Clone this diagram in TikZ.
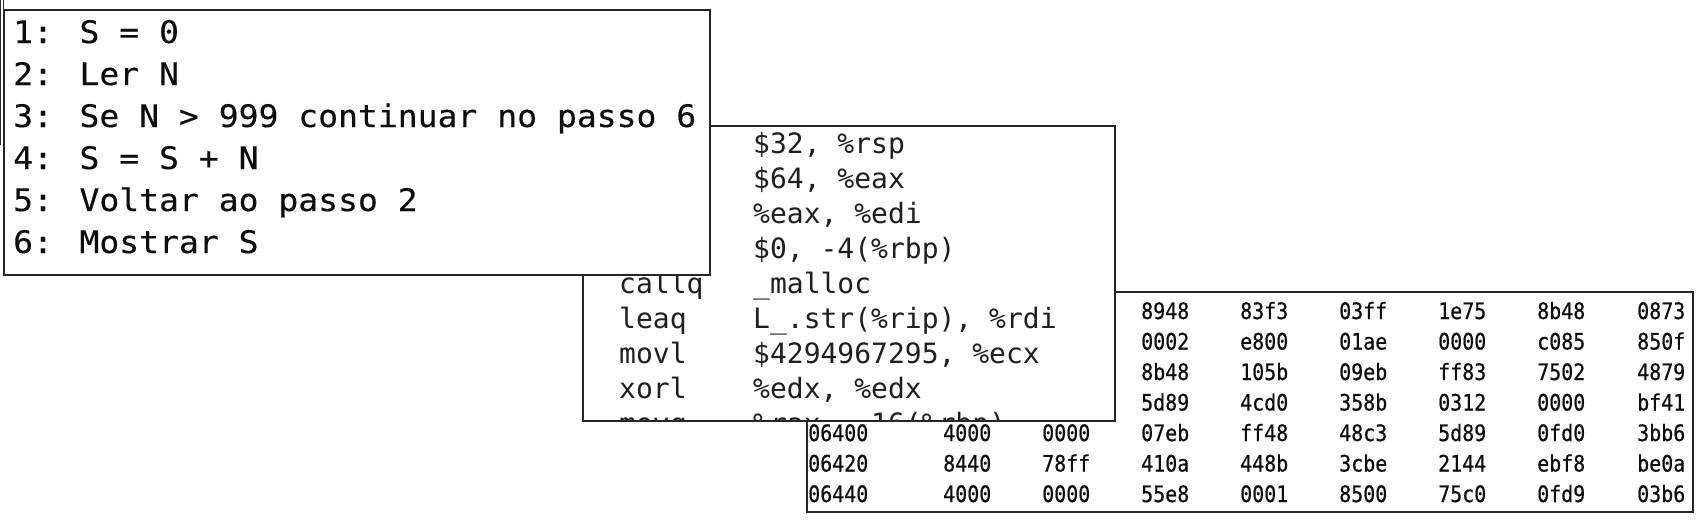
\documentclass[tikz,border=0pt]{standalone}
\usepackage{fontspec}
\newfontfamily\pseudofont[FakeStretch=1.066,FakeBold=0.3]{DejaVu Sans Mono}
\newfontfamily\asmfont{DejaVu Sans Mono}
\newfontfamily\hexfont[FakeStretch=0.883,FakeBold=0.6]{DejaVu Sans Mono}
\begin{document}
\begin{tikzpicture}[x=1pt,y=-1pt,
  panel/.style={draw=black!85, line width=1.8pt, fill=white, inner sep=0pt, anchor=north west},
  pline/.style={anchor=base west, inner sep=0pt, text=black!95, font=\pseudofont\fontsize{31}{42}\selectfont},
  aline/.style={anchor=base west, inner sep=0pt, text=black!88, font=\asmfont\fontsize{28}{35}\selectfont},
  hcell/.style={anchor=base west, inner sep=0pt, text=black!95, font=\hexfont\fontsize{22.6}{30}\selectfont},
  stub/.style={draw=black!85, line width=1.2pt}]
\useasboundingbox (0,0) rectangle (1700,520);

% ---------------- hex dump panel (back) ----------------
\node[panel, minimum width=886pt, minimum height=220pt] (hex) at (806,291) {};
\foreach \r/\y/\cells in {
  1/319/{1141/8948,1240/83f3,1339/03ff,1438/1e75,1537/8b48,1637/0873},
  2/349.5/{1141/0002,1240/e800,1339/01ae,1438/0000,1537/c085,1637/850f},
  3/380/{1141/8b48,1240/105b,1339/09eb,1438/ff83,1537/7502,1637/4879},
  4/410.5/{1141/5d89,1240/4cd0,1339/358b,1438/0312,1537/0000,1637/bf41},
  5/441/{808/06400,943/4000,1042/0000,1141/07eb,1240/ff48,1339/48c3,1438/5d89,1537/0fd0,1637/3bb6},
  6/471.5/{808/06420,943/8440,1042/78ff,1141/410a,1240/448b,1339/3cbe,1438/2144,1537/ebf8,1637/be0a},
  7/502/{808/06440,943/4000,1042/0000,1141/55e8,1240/0001,1339/8500,1438/75c0,1537/0fd9,1637/03b6}}
{
  \foreach \x/\v [count=\c] in \cells {
    \node[hcell] (h\r c\c) at (\x,\y) {\v};
  }
}

% ---------------- assembly panel (middle) ----------------
\node[panel, minimum width=532pt, minimum height=295pt] (asm) at (582,125) {};
\begin{scope}
  \clip (583,126) rectangle (1113,419);
  \node[aline] (op1) at (753,153) {\$32, \%rsp};
  \node[aline] (op2) at (753,188) {\$64, \%eax};
  \node[aline] (op3) at (753,223) {\%eax, \%edi};
  \node[aline] (op4) at (753,258) {\$0, -4(\%rbp)};
  \node[aline] (mn5) at (619,293) {callq};
  \node[aline] (op5) at (753,293) {\_malloc};
  \node[aline] (mn6) at (619,328) {leaq};
  \node[aline] (op6) at (753,328) {L\_.str(\%rip), \%rdi};
  \node[aline] (mn7) at (619,363) {movl};
  \node[aline] (op7) at (753,363) {\$4294967295, \%ecx};
  \node[aline] (mn8) at (619,398) {xorl};
  \node[aline] (op8) at (753,398) {\%edx, \%edx};
  \node[aline] (mn9) at (619,433) {movq};
  \node[aline] (op9) at (753,433) {\%rax, -16(\%rbp)};
\end{scope}

% ---------------- pseudocode panel (front) ----------------
\node[panel, minimum width=705.7pt, minimum height=264.7pt] (pseudo) at (3.3,9.3) {};
\node[pline] (p1) at (13,43)  {1: S = 0};
\node[pline] (p2) at (13,85)  {2: Ler N};
\node[pline] (p3) at (13,127) {3: Se N > 999 continuar no passo 6};
\node[pline] (p4) at (13,169) {4: S = S + N};
\node[pline] (p5) at (13,211) {5: Voltar ao passo 2};
\node[pline] (p6) at (13,253) {6: Mostrar S};

% ---------------- stray frame remnants at the left edge ----------------
\coordinate (topstub) at (3.3,0);
\draw[stub] (topstub) -- (pseudo.north west);
\coordinate (edgeA) at (0.8,0);
\coordinate (edgeB) at (0.8,145);
\draw[stub] (edgeA) -- (edgeB);
\end{tikzpicture}
\end{document}
